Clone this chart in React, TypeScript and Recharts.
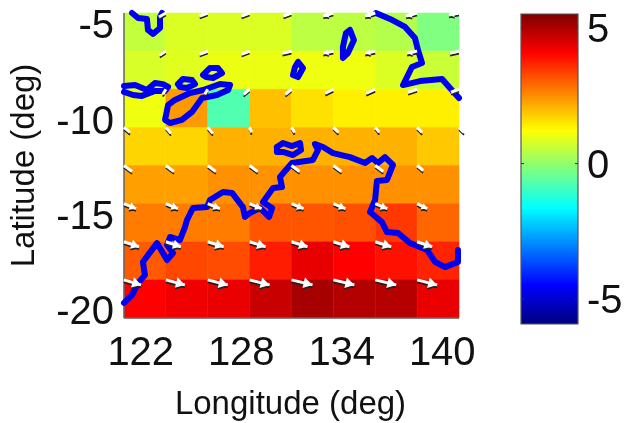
import React from "react";
import {
  Bar,
  BarChart,
  Label,
  ReferenceArea,
  Scatter,
  ScatterChart,
  XAxis,
  YAxis,
} from "recharts";

const FONT = "'Liberation Sans', Arial, sans-serif";
const COAST = "#0000f0";
const AXIS = "#666666";

// cell edges, deg
const lonEdges = [121, 123.5, 126, 128.5, 131, 133.5, 136, 138.5, 141];
const latEdges = [-4.42, -6.42, -8.42, -10.42, -12.42, -14.42, -16.42, -18.42, -20.42];
const lonTicks = [122, 128, 134, 140];
const latTicks = [-5, -10, -15, -20];
const barTicks = [5, 0, -5];
const barRange = [-5.92, 5.52];

// temperature trend per cell, north to south
const cellValues = [
  [0.57, 0.84, 0.84, 0.84, 0.48, 0.48, 0.39, -0.2],
  [0.79, 0.88, 1.02, 1.02, 1.06, 1.06, 0.84, 0.62],
  [1.06, 2.37, -0.73, 1.94, 1.57, 1.4, 1.4, 1.4],
  [1.7, 1.7, 2.1, 2.1, 2.1, 2.1, 2.1, 1.85],
  [2.29, 2.29, 2.47, 2.45, 2.47, 2.47, 2.47, 2.47],
  [2.7, 2.7, 2.7, 3.14, 3.14, 3.2, 3.47, 2.95],
  [3.08, 3.29, 3.24, 3.78, 4.35, 4.09, 3.91, 3.7],
  [4.09, 4.26, 4.33, 4.71, 5.07, 4.94, 4.9, 4.33],
];

// wind components at the cell corners, north to south
const windU = [
  [0, -3.5, -4, -4, -4, -5, -5, -5.5, -5],
  [0, -3, -4, -4, -4.5, -5, -5, -5, -4.5],
  [0, -1.5, -1.5, -3, -3, -4, -4.5, -4.5, -4],
  [3, 2.5, 2.5, 1, 1.5, 2.5, 2, 2.5, 2.5],
  [4, 4, 4, 4, 4, 4, 4, 3, 0],
  [6, 6, 6, 6, 6, 6, 6, 5, 0],
  [7.5, 7.5, 8, 8, 8, 8, 8, 7.5, 0],
  [8.5, 9.5, 10, 10, 10.5, 10.5, 10.5, 10, 0],
];
const windV = [
  [0, -2, -1.5, -1.5, -1.5, -1.5, -1.5, -1.5, -1],
  [0, -2, -1.5, -1.5, -1, -1, -1, -1, -1],
  [0, -2.5, -2.5, -2.5, -2.5, -2, -2, -1.5, -1.5],
  [-2.5, -3, -3, -2.5, -2.5, -2.5, -2.5, -2.5, -2.5],
  [-3, -3, -3, -3, -3, -3, -3, -2.5, 0],
  [-2.5, -2.5, -2.5, -2.5, -2.5, -2.5, -2.5, -2.5, 0],
  [-2.5, -2.5, -2.5, -2.5, -2.5, -2.5, -2.5, -2.5, 0],
  [-2.5, -2.5, -2.5, -2.5, -2.5, -2.5, -2.5, -2.5, 0],
];

// coastline traces as [lon, lat]
const coastSouth = [
  [121, -19.63], [121.48, -19.22], [121.84, -18.59], [122.25, -18.17], [122.13, -17.48],
  [122.97, -16.49], [123.57, -17.38], [123.93, -17.01], [123.57, -16.59], [123.75, -16.17],
  [124.34, -16.33], [124.64, -15.65], [124.76, -15.28], [125.12, -14.65], [125.96, -14.6],
  [126.13, -14.23], [126.91, -13.81], [127.45, -13.86], [128.1, -14.6], [128.22, -15.12],
  [128.52, -14.91], [129.12, -14.65], [129.66, -15.12], [129.84, -14.65], [129.3, -14.34],
  [129.9, -13.6], [130.43, -13.55], [130.31, -13.02], [131.03, -12.29], [132.28, -12.13],
  [132.58, -11.61], [132.4, -11.29], [132.88, -11.45], [133.48, -11.77], [134.49, -11.98],
  [135.39, -12.29], [135.81, -12.03], [136.16, -12.29], [136.58, -11.98], [137.06, -12.39],
  [136.7, -13.18], [136.1, -13.23], [135.99, -14.23], [135.69, -14.86], [136.4, -15.39],
  [136.7, -15.91], [137.36, -15.96], [138.07, -16.49], [139.09, -16.85], [139.57, -17.48],
  [140.16, -17.75], [140.94, -17.48], [140.94, -16.85],
];
const coastNorthEast = [
  [136.04, -4.42], [136.88, -4.73], [137.78, -5.15], [138.37, -5.73], [138.55, -6.36],
  [138.79, -7.04], [138.19, -7.25], [137.66, -8.2], [138.67, -7.99], [139.99, -7.88],
  [140.46, -8.35], [141, -8.88],
];
const coastTopLeft = [
  [121.48, -4.42], [121.84, -4.68], [122.37, -4.73], [122.43, -5.31], [122.73, -5.52],
  [123.15, -5.21], [123.15, -4.63], [123.27, -4.42],
];
const coastWest = [
  [121, -8.25], [121.66, -8.2], [122.37, -8.46], [122.85, -8.09], [123.33, -8.15],
  [123.63, -8.3], [123.45, -8.51], [122.85, -8.51], [122.07, -8.77], [121.54, -8.72],
  [121, -8.56],
];
const islandA = [
  [124.22, -8.15], [124.52, -7.88], [125.06, -7.94], [125.24, -8.15], [124.76, -8.35],
  [124.34, -8.3], [124.22, -8.15],
];
const islandB = [
  [125.72, -7.67], [126.13, -7.31], [126.61, -7.31], [126.85, -7.57], [126.31, -7.83],
  [125.9, -7.78], [125.72, -7.67],
];
const islandC = [
  [127.33, -8.2], [126.73, -8.15], [125.72, -8.46], [124.94, -8.62], [124.04, -8.98],
  [123.63, -9.25], [123.45, -10.03], [123.75, -10.19], [124.46, -10.03], [125.06, -9.61],
  [125.66, -8.88], [126.55, -8.72], [127.21, -8.46], [127.33, -8.2],
];
const islandD = [
  [131.39, -6.99], [131.69, -7.31], [131.39, -7.78], [131.09, -7.67], [131.21, -7.25],
  [131.39, -6.99],
];
const islandE = [
  [134.49, -5.31], [134.73, -5.84], [134.37, -6.52], [134.07, -6.78], [134.07, -6.2],
  [134.25, -5.47], [134.49, -5.31],
];
const islandF = [
  [130.13, -11.45], [130.49, -11.24], [131.03, -11.4], [131.51, -11.24], [131.57, -11.61],
  [131.09, -11.87], [130.49, -11.71], [130.13, -11.71], [130.13, -11.45],
];
const coastlines = [
  coastSouth, coastNorthEast, coastTopLeft, coastWest, islandA, islandB, islandC, islandD,
  islandE, islandF,
];

const jetStops: [number, number[]][] = [
  [0, [0, 0, 127]],
  [0.125, [0, 0, 255]],
  [0.375, [0, 255, 255]],
  [0.625, [255, 255, 0]],
  [0.875, [255, 0, 0]],
  [1, [127, 0, 0]],
];

function jet(v: number) {
  const t = (v - barRange[0]) / (barRange[1] - barRange[0]);
  for (let i = 1; i < jetStops.length; i++) {
    const [t0, c0] = jetStops[i - 1];
    const [t1, c1] = jetStops[i];
    if (t <= t1) {
      const f = (t - t0) / (t1 - t0);
      const c = c0.map((x, k) => Math.round(x + (c1[k] - x) * f));
      return `rgb(${c[0]},${c[1]},${c[2]})`;
    }
  }
  return "rgb(127,0,0)";
}

const windPoints = windU.flatMap((row, r) =>
  row.map((u, c) => ({ x: lonEdges[c], y: latEdges[r], u, v: windV[r][c] }))
);

const WIND_SCALE = 2; // px per unit

function WindArrow(props: any) {
  const { cx, cy, payload } = props;
  const { u, v } = payload;
  if (u === 0 && v === 0) return <g />;
  const dx = u * WIND_SCALE;
  const dy = -v * WIND_SCALE;
  const len = Math.hypot(dx, dy);
  const ux = dx / len;
  const uy = dy / len;
  const head = len > 10 ? Math.min(9, len * 0.5) : 0;
  const hw = head * 0.6;
  const tipX = cx + dx;
  const tipY = cy + dy;
  const baseX = tipX - ux * head;
  const baseY = tipY - uy * head;
  const tri = `${tipX},${tipY} ${baseX - uy * hw},${baseY + ux * hw} ${baseX + uy * hw},${baseY - ux * hw}`;
  return (
    <g>
      <line x1={cx} y1={cy + 2.4} x2={tipX} y2={tipY + 2.4} stroke="#222" strokeWidth={1.8} />
      {head > 0 && <polygon points={tri} fill="#222" transform="translate(0,1.8)" />}
      <line x1={cx} y1={cy} x2={tipX} y2={tipY} stroke="#fff" strokeWidth={3} />
      {head > 0 && <polygon points={tri} fill="#fff" />}
    </g>
  );
}

function BarTick(props: any) {
  const { x, y, payload } = props;
  return (
    <g>
      <line x1={x - 9} x2={x - 12} y1={y} y2={y} stroke="#333" strokeWidth={1} />
      <line x1={x - 63} x2={x - 66} y1={y} y2={y} stroke="#333" strokeWidth={1} />
      <text x={x} y={y} dy="0.35em" fontSize={40} fontFamily={FONT} fill="#111">
        {payload.value}
      </text>
    </g>
  );
}

const barData = [{ name: "scale", range: barRange }];

export default function App() {
  return (
    <div style={{ position: "absolute", left: 0, top: 0, width: 625, height: 423, filter: "blur(0.5px)" }}>
      <div style={{ position: "absolute", left: 0, top: 0 }}>
        <ScatterChart width={625} height={423} margin={{ top: 13, right: 166, bottom: 0, left: 0 }}>
          <XAxis
            type="number"
            dataKey="x"
            domain={[121, 141]}
            ticks={lonTicks}
            interval={0}
            height={105}
            tickSize={0}
            tickMargin={19}
            stroke={AXIS}
            strokeWidth={1.5}
            tick={{ fontSize: 40, fontFamily: FONT, fill: "#111" }}
          >
            <Label
              value="Longitude (deg)"
              position="insideBottom"
              offset={9}
              style={{ fontSize: 33, fontFamily: FONT, fill: "#111" }}
              dx={-1}
            />
          </XAxis>
          <YAxis
            type="number"
            dataKey="y"
            domain={[-20.42, -4.42]}
            ticks={latTicks}
            interval={0}
            width={124}
            tickSize={0}
            tickMargin={10}
            stroke={AXIS}
            strokeWidth={1.5}
            tick={{ fontSize: 40, fontFamily: FONT, fill: "#111" }}
          >
            <Label
              value="Latitude (deg)"
              angle={-90}
              position="insideLeft"
              offset={22}
              style={{ fontSize: 33, fontFamily: FONT, fill: "#111", textAnchor: "middle" }}
            />
          </YAxis>
          {cellValues.flatMap((row, r) =>
            row.map((val, c) => (
              <ReferenceArea
                key={`cell-${r}-${c}`}
                x1={lonEdges[c]}
                x2={lonEdges[c + 1]}
                y1={latEdges[r + 1]}
                y2={latEdges[r]}
                fill={jet(val)}
                fillOpacity={1}
                stroke={jet(val)}
                strokeWidth={0.5}
                strokeOpacity={1}
              />
            ))
          )}
          {coastlines.map((trace, i) => (
            <Scatter
              key={`coast-${i}`}
              data={trace.map(([x, y]) => ({ x, y }))}
              line={{ stroke: COAST, strokeWidth: 6, strokeLinejoin: "round", strokeLinecap: "round" }}
              shape={() => <g />}
              isAnimationActive={false}
            />
          ))}
          <Scatter data={windPoints} shape={WindArrow} isAnimationActive={false} />
        </ScatterChart>
      </div>
      <div style={{ position: "absolute", left: 0, top: 0 }}>
        <BarChart
          width={625}
          height={423}
          data={barData}
          barCategoryGap={0}
          margin={{ top: 14, right: 0, bottom: 99, left: 521 }}
        >
          <defs>
            <linearGradient id="jetBar" x1="0" y1="1" x2="0" y2="0">
              {jetStops.map(([t, c]) => (
                <stop key={t} offset={t} stopColor={`rgb(${c[0]},${c[1]},${c[2]})`} />
              ))}
            </linearGradient>
          </defs>
          <XAxis dataKey="name" hide />
          <YAxis
            orientation="right"
            type="number"
            domain={barRange}
            ticks={barTicks}
            interval={0}
            width={47}
            tickSize={0}
            tickMargin={9}
            axisLine={false}
            tick={BarTick}
          />
          <Bar dataKey="range" fill="url(#jetBar)" stroke="#555" strokeWidth={1.2} isAnimationActive={false} />
        </BarChart>
      </div>
    </div>
  );
}
